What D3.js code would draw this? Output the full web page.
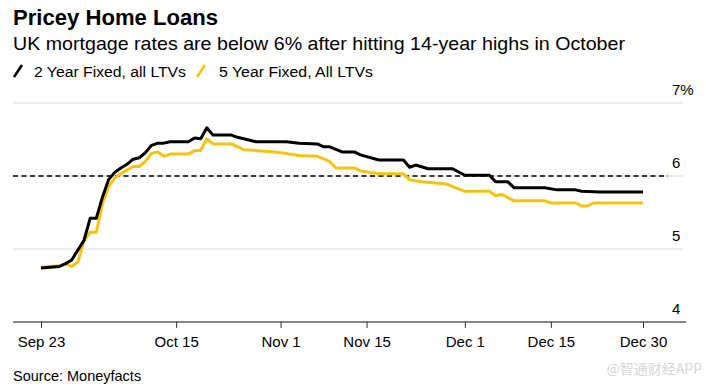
<!DOCTYPE html>
<html>
<head>
<meta charset="utf-8">
<script src="https://cdn.jsdelivr.net/npm/d3@7/dist/d3.min.js"></script>
<style>
  html, body { margin: 0; padding: 0; background: #fff; }
  svg text { font-family: "Liberation Sans", Arial, sans-serif; }
</style>
</head>
<body>
<svg id="chart" width="706" height="388"></svg>
<script>
// ---- data ----
const title = "Pricey Home Loans";
const subtitle = "UK mortgage rates are below 6% after hitting 14-year highs in October";
const seriesNames = ["2 Year Fixed, all LTVs", "5 Year Fixed, All LTVs"];
const source = "Source: Moneyfacts";
const watermark = "@智通财经APP";

const twoYearDates = ["2022-09-23","2022-09-26","2022-09-27","2022-09-28","2022-09-30","2022-10-01","2022-10-02","2022-10-03","2022-10-04","2022-10-05","2022-10-06","2022-10-07","2022-10-08","2022-10-09","2022-10-10","2022-10-11","2022-10-12","2022-10-13","2022-10-14","2022-10-17","2022-10-18","2022-10-19","2022-10-20","2022-10-21","2022-10-24","2022-10-25","2022-10-26","2022-10-28","2022-11-02","2022-11-04","2022-11-07","2022-11-08","2022-11-09","2022-11-11","2022-11-13","2022-11-14","2022-11-17","2022-11-21","2022-11-22","2022-11-23","2022-11-25","2022-11-29","2022-12-01","2022-12-05","2022-12-06","2022-12-08","2022-12-09","2022-12-14","2022-12-16","2022-12-19","2022-12-20","2022-12-23","2022-12-30"];
const twoYearValues = [4.74,4.76,4.80,4.85,5.12,5.42,5.42,5.71,5.95,6.05,6.11,6.16,6.23,6.25,6.32,6.42,6.45,6.45,6.47,6.47,6.52,6.51,6.66,6.56,6.56,6.53,6.51,6.47,6.47,6.45,6.44,6.40,6.40,6.33,6.33,6.29,6.22,6.22,6.12,6.15,6.10,6.10,6.01,6.01,5.92,5.92,5.84,5.84,5.81,5.81,5.79,5.78,5.78];

const fiveYearDates = ["2022-09-23","2022-09-26","2022-09-27","2022-09-28","2022-09-29","2022-09-30","2022-10-01","2022-10-02","2022-10-03","2022-10-04","2022-10-05","2022-10-06","2022-10-07","2022-10-08","2022-10-09","2022-10-10","2022-10-11","2022-10-12","2022-10-13","2022-10-14","2022-10-17","2022-10-18","2022-10-19","2022-10-20","2022-10-21","2022-10-24","2022-10-26","2022-10-31","2022-11-01","2022-11-04","2022-11-07","2022-11-09","2022-11-10","2022-11-13","2022-11-14","2022-11-17","2022-11-21","2022-11-22","2022-11-24","2022-11-28","2022-12-01","2022-12-05","2022-12-06","2022-12-07","2022-12-09","2022-12-14","2022-12-15","2022-12-19","2022-12-20","2022-12-21","2022-12-22","2022-12-30"];
const fiveYearValues = [4.75,4.77,4.80,4.76,4.82,5.11,5.23,5.23,5.62,5.85,5.97,6.03,6.08,6.13,6.13,6.20,6.31,6.33,6.27,6.30,6.30,6.35,6.35,6.51,6.44,6.44,6.36,6.33,6.32,6.28,6.27,6.20,6.11,6.11,6.07,6.03,6.03,5.95,5.92,5.89,5.79,5.79,5.73,5.75,5.66,5.66,5.63,5.63,5.59,5.59,5.63,5.63];

const yTicks = [4, 5, 6, 7];
const xTickDates = ["2022-09-23","2022-10-15","2022-11-01","2022-11-15","2022-12-01","2022-12-15","2022-12-30"];
const xTickLabels = ["Sep 23","Oct 15","Nov 1","Nov 15","Dec 1","Dec 15","Dec 30"];
const referenceLevel = 6;

// ---- drawing ----
const parse = d3.timeParse("%Y-%m-%d");
const svg = d3.select("#chart");
const colors = ["#000000", "#f7c30f"];

const x = d3.scaleTime()
  .domain([parse("2022-09-23"), parse("2022-12-30")])
  .range([41, 643]);
const y = d3.scaleLinear().domain([4, 7]).range([322, 103]);

// Titles
svg.append("text").attr("x", 13).attr("y", 25)
  .attr("font-size", 22).attr("font-weight", "bold").attr("fill", "#000")
  .attr("textLength", 205).attr("lengthAdjust", "spacingAndGlyphs")
  .text(title);
svg.append("text").attr("x", 13).attr("y", 50)
  .attr("font-size", 18.5).attr("fill", "#000")
  .attr("textLength", 612).attr("lengthAdjust", "spacingAndGlyphs")
  .text(subtitle);

// Legend
const legendItems = [
  {icon: 14, text: 34, len: 152},
  {icon: 197, text: 219, len: 154}
];
legendItems.forEach((li, i) => {
  svg.append("line")
    .attr("x1", li.icon).attr("y1", 77).attr("x2", li.icon + 8).attr("y2", 65)
    .attr("stroke", colors[i]).attr("stroke-width", 2.6);
  svg.append("text").attr("x", li.text).attr("y", 77)
    .attr("font-size", 15.5).attr("fill", "#000")
    .attr("textLength", li.len).attr("lengthAdjust", "spacingAndGlyphs")
    .text(seriesNames[i]);
});

// Gridlines
svg.append("g").selectAll("line").data(yTicks.filter(t => t > 4)).join("line")
  .attr("x1", 13).attr("x2", 683)
  .attr("y1", d => y(d)).attr("y2", d => y(d))
  .attr("stroke", "#dcdcdc").attr("stroke-width", 1.2);

// Y labels
svg.append("g").selectAll("text").data(yTicks).join("text")
  .attr("x", 672).attr("y", d => y(d) - 8)
  .attr("font-size", 15).attr("fill", "#000")
  .text(d => d === 7 ? d + "%" : d);

// Reference dashed line
svg.append("line")
  .attr("x1", 13).attr("x2", 668)
  .attr("y1", y(referenceLevel)).attr("y2", y(referenceLevel))
  .attr("stroke", "#000").attr("stroke-width", 1.3)
  .attr("stroke-dasharray", "5,3.5");

// X axis
const xAxis = d3.axisBottom(x)
  .tickValues(xTickDates.map(parse))
  .tickFormat((d, i) => xTickLabels[i])
  .tickSize(6).tickSizeOuter(0).tickPadding(8);
const gx = svg.append("g").attr("transform", `translate(0,${y(4)})`).call(xAxis);
gx.select(".domain").remove();
gx.selectAll(".tick line").attr("stroke", "#333");
gx.selectAll(".tick text").attr("font-size", 15).attr("fill", "#000")
  .attr("font-family", "Liberation Sans, Arial, sans-serif");
svg.append("line").attr("x1", 13).attr("x2", 686)
  .attr("y1", y(4)).attr("y2", y(4)).attr("stroke", "#111").attr("stroke-width", 1.2);

// Lines
const lineGen = d3.line().x(d => x(d[0])).y(d => y(d[1]));
const series = [
  twoYearDates.map((d, i) => [parse(d), twoYearValues[i]]),
  fiveYearDates.map((d, i) => [parse(d), fiveYearValues[i]])
];
[1, 0].forEach(i => {
  svg.append("path").datum(series[i])
    .attr("d", lineGen).attr("fill", "none")
    .attr("stroke", colors[i]).attr("stroke-width", 3)
    .attr("stroke-linejoin", "round");
});

// Source and watermark
svg.append("text").attr("x", 13).attr("y", 381)
  .attr("font-size", 14.5).attr("fill", "#000").text(source);
svg.append("text").attr("x", 702).attr("y", 374).attr("text-anchor", "end")
  .attr("font-size", 14).attr("fill", "#d6d6d6")
  .style("font-family", "'Noto Sans CJK SC', sans-serif")
  .text(watermark);
</script>
</body>
</html>
